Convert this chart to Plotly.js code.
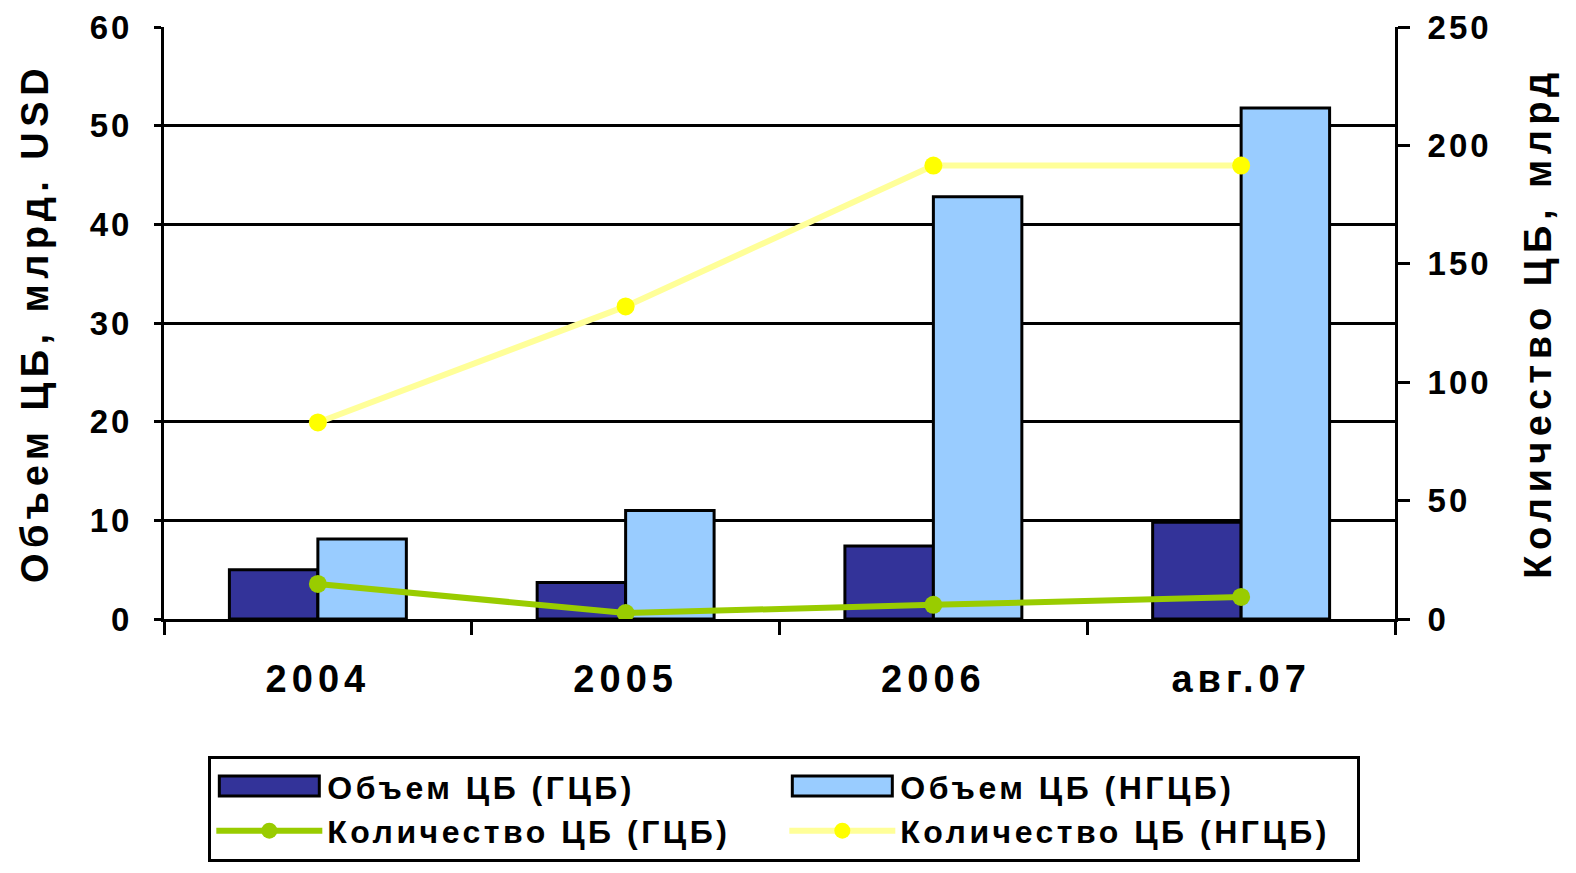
<!DOCTYPE html>
<html>
<head>
<meta charset="utf-8">
<script src="https://cdn.plot.ly/plotly-3.0.1.min.js"></script>
<style>
  html, body { margin: 0; padding: 0; background: #fff; }
  #chart { width: 1576px; height: 873px; }
  .xtick text { letter-spacing: 5px; }
  .ytick text, .y2tick text { letter-spacing: 3px; }
  .ytitle, .y2title { letter-spacing: 5.5px; }
  .legendtext { letter-spacing: 3.5px; }
</style>
</head>
<body>
<div id="chart"></div>
<script>
const categories = ['2004', '2005', '2006', 'авг.07'];
const volumeGov = [5.0, 3.7, 7.4, 9.8];        // Объем ЦБ (ГЦБ), млрд USD
const volumeNonGov = [8.1, 11.0, 42.8, 51.8];  // Объем ЦБ (НГЦБ), млрд USD
const countGov = [14.8, 2.5, 6, 9.3];          // Количество ЦБ (ГЦБ)
const countNonGov = [83, 132, 191.5, 191.5];   // Количество ЦБ (НГЦБ)

const FONT = 'Liberation Sans, Arial, sans-serif';

const traces = [
  {
    type: 'bar', name: 'Объем ЦБ (ГЦБ)', x: categories, y: volumeGov,
    marker: { color: '#333399', line: { color: '#000000', width: 3 } },
    yaxis: 'y'
  },
  {
    type: 'bar', name: 'Объем ЦБ (НГЦБ)', x: categories, y: volumeNonGov,
    marker: { color: '#99CCFF', line: { color: '#000000', width: 3 } },
    yaxis: 'y'
  },
  {
    type: 'scatter', mode: 'lines+markers', name: 'Количество ЦБ (ГЦБ)',
    x: categories, y: countGov, yaxis: 'y2',
    line: { color: '#99CC00', width: 6 },
    marker: { color: '#99CC00', size: 18 }
  },
  {
    type: 'scatter', mode: 'lines+markers', name: 'Количество ЦБ (НГЦБ)',
    x: categories, y: countNonGov, yaxis: 'y2',
    line: { color: '#FFFF99', width: 6 },
    marker: { color: '#FFFF00', size: 18 }
  }
];

const layout = {
  width: 1576, height: 873,
  margin: { l: 164, r: 181, t: 27, b: 253 },
  paper_bgcolor: '#ffffff', plot_bgcolor: '#ffffff',
  font: { family: FONT, color: '#000000', size: 30, weight: 'bold' },
  barmode: 'group', bargap: 0.425, bargroupgap: 0,
  showlegend: true,
  xaxis: {
    type: 'category',
    showline: true, linecolor: '#000000', linewidth: 3,
    ticks: 'outside', tickson: 'boundaries', ticklen: 13, tickwidth: 3, tickcolor: '#000000',
    tickfont: { family: FONT, size: 38, color: '#000000', weight: 'bold' },
    ticklabelstandoff: 24,
    showgrid: false, zeroline: false
  },
  yaxis: {
    range: [0, 60], dtick: 10, tick0: 0,
    showline: true, linecolor: '#000000', linewidth: 3,
    ticks: 'outside', ticklen: 7, tickwidth: 3, tickcolor: '#000000',
    showgrid: true, gridcolor: '#000000', gridwidth: 3,
    zeroline: false,
    tickfont: { family: FONT, size: 33, color: '#000000', weight: 'bold' },
    ticklabelstandoff: 15,
    title: { text: 'Объем ЦБ, млрд. USD', standoff: 30,
             font: { family: FONT, size: 38, color: '#000000', weight: 'bold' } }
  },
  yaxis2: {
    overlaying: 'y', side: 'right', anchor: 'x',
    range: [0, 250], dtick: 50, tick0: 0,
    showline: true, linecolor: '#000000', linewidth: 3,
    ticks: 'outside', ticklen: 12, tickwidth: 3, tickcolor: '#000000',
    showgrid: false, zeroline: false,
    tickfont: { family: FONT, size: 33, color: '#000000', weight: 'bold' },
    ticklabelstandoff: 11,
    title: { text: 'Количество ЦБ, млрд', standoff: 34,
             font: { family: FONT, size: 38, color: '#000000', weight: 'bold' } }
  },
  yaxis3: {
    overlaying: 'y', side: 'right', anchor: 'x',
    range: [0, 250], dtick: 50, tick0: 0,
    showline: false, showgrid: false, zeroline: false,
    ticks: 'inside', ticklen: 12, tickwidth: 3, tickcolor: '#000000',
    showticklabels: false
  },
  legend: {
    orientation: 'h',
    x: 0.036, xanchor: 'left',
    y: -0.229, yanchor: 'top',
    bgcolor: '#ffffff', bordercolor: '#000000', borderwidth: 3,
    font: { family: FONT, size: 32, color: '#000000', weight: 'bold' },
    entrywidth: 452, entrywidthmode: 'pixels',
    itemwidth: 106,
    traceorder: 'normal'
  }
};

function widenBarSwatches() {
  // widen the bar swatches in the legend to match the original's long rectangles
  document.querySelectorAll('.legend .legendpoints path').forEach(function (p) {
    const d = p.getAttribute('d') || '';
    if (/^M6,6H-6V-6H6Z$/.test(d.replace(/\s/g, ''))) {
      p.setAttribute('d', 'M50,10H-50V-10H50Z');
    }
  });
}

Plotly.newPlot('chart', traces, layout, { displayModeBar: false, staticPlot: true }).then(function () {
  widenBarSwatches();
  setTimeout(widenBarSwatches, 50);
});
</script>
</body>
</html>
